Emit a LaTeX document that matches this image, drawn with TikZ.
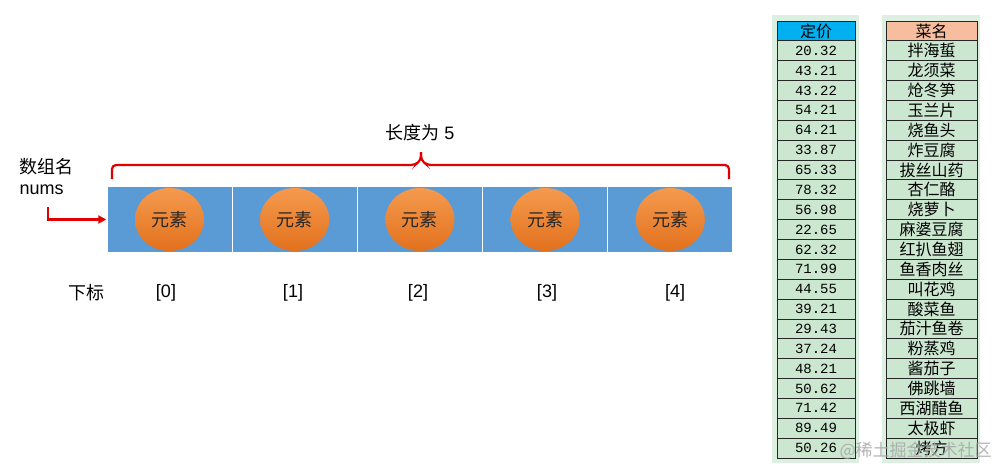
\documentclass[tikz,border=0pt]{standalone}
\usepackage{fontspec}
\setmainfont{Liberation Sans}
\newfontfamily\cjk{Noto Sans CJK SC}
\newfontfamily\tabfont{Liberation Mono}
\usetikzlibrary{arrows.meta,shapes.geometric}

\definecolor{arrblue}{HTML}{5B9BD5}
\definecolor{elemtop}{HTML}{F59A4E}
\definecolor{elembot}{HTML}{E2711D}
\definecolor{marker}{HTML}{E00000}
\definecolor{sheetbg}{HTML}{DDEFE0}
\definecolor{cellgreen}{HTML}{CCE7D0}
\definecolor{headblue}{HTML}{00B0F0}
\definecolor{headsalmon}{HTML}{F6BE9F}

\tikzset{
  cellbox/.style={draw=white, line width=1.2pt, fill=arrblue, minimum width=125.2pt, minimum height=67pt, inner sep=0},
  elem/.style={ellipse, top color=elemtop, bottom color=elembot, minimum width=69pt, minimum height=63pt, inner sep=0, text=black!85, font=\cjk\fontsize{18}{18}\selectfont},
  lbl/.style={font=\fontsize{18}{18}\selectfont},
  redline/.style={marker, line width=2.2pt},
  price/.style={draw=black!85, line width=0.8pt, fill=cellgreen, minimum width=78pt, minimum height=19.86pt, inner sep=0, font=\tabfont\fontsize{14}{14}\selectfont},
  dish/.style={price, minimum width=91pt, font=\cjk\fontsize{16}{16}\selectfont},
}

\begin{document}
\begin{tikzpicture}[x=1pt,y=-1pt]
    \useasboundingbox (0,0) rectangle (1007,469);

    % Pole: bunky
    \node[cellbox] (c0) at (169.5,219.5) {};
    \node[cellbox] (c1) at (294.7,219.5) {};
    \node[cellbox] (c2) at (419.9,219.5) {};
    \node[cellbox] (c3) at (545.1,219.5) {};
    \node[cellbox] (c4) at (670.3,219.5) {};

    % Prvky
    \node[elem] (e0) at (c0) {元素};
    \node[elem] (e1) at (c1) {元素};
    \node[elem] (e2) at (c2) {元素};
    \node[elem] (e3) at (c3) {元素};
    \node[elem] (e4) at (c4) {元素};

    % Indexy
    \node[lbl, font=\cjk\fontsize{18}{18}\selectfont] (sub) at (86,293) {下标};
    \node[lbl] (i0) at (166,293) {[0]};
    \node[lbl] (i1) at (293,293) {[1]};
    \node[lbl] (i2) at (418,293) {[2]};
    \node[lbl] (i3) at (547,293) {[3]};
    \node[lbl] (i4) at (675,293) {[4]};

    % Jmeno pole a sipka
    \node[lbl, font=\cjk\fontsize{18}{18}\selectfont, anchor=west] (name) at (16,167) {数组名};
    \node[lbl, anchor=west] (nums) at (16,190) {nums};
    \coordinate (nstart) at (48,207);
    \draw[redline, -{Triangle[length=8pt,width=8pt]}] (nstart) |- (c0.west);

    % Delka pole
    \node[lbl] (len) at (420,133) {{\cjk 长度为} 5};
    \coordinate (bl) at (112,179);
    \coordinate (br) at (729,179);
    \coordinate (tip) at (421,152);
    \draw[redline, rounded corners=4pt] (bl) -- (112,165) -- (415,165) -- (421,160) -- (tip);
    \draw[redline, rounded corners=4pt] (tip) -- (421,160) -- (427,165) -- (729,165) -- (br);

    % Tabulka: ceny
    \fill[sheetbg] (772,15) rectangle (859,463);
    \node[price, fill=headblue, font=\cjk\fontsize{16}{16}\selectfont] (ph) at (816,30.93) {定价};
    \foreach \v [count=\k] in {20.32,43.21,43.22,54.21,64.21,33.87,65.33,78.32,56.98,22.65,62.32,71.99,44.55,39.21,29.43,37.24,48.21,50.62,71.42,89.49,50.26}
        \node[price] (p\k) at (816,{30.93+19.86*\k}) {\v};

    % Tabulka: jidla
    \fill[sheetbg] (882,15) rectangle (980,463);
    \node[dish, fill=headsalmon] (dh) at (931.5,30.93) {菜名};
    \foreach \d [count=\k] in {拌海蜇,龙须菜,炝冬笋,玉兰片,烧鱼头,炸豆腐,拔丝山药,杏仁酪,烧萝卜,麻婆豆腐,红扒鱼翅,鱼香肉丝,叫花鸡,酸菜鱼,茄汁鱼卷,粉蒸鸡,酱茄子,佛跳墙,西湖醋鱼,太极虾,烤方}
        \node[dish] (d\k) at (931.5,{30.93+19.86*\k}) {\d};

    % Vodoznak
    \node[text=gray!70, opacity=0.85, font=\cjk\fontsize{17}{17}\selectfont, anchor=west] (wm) at (836,451) {@稀土掘金技术社区};
\end{tikzpicture}
\end{document}
